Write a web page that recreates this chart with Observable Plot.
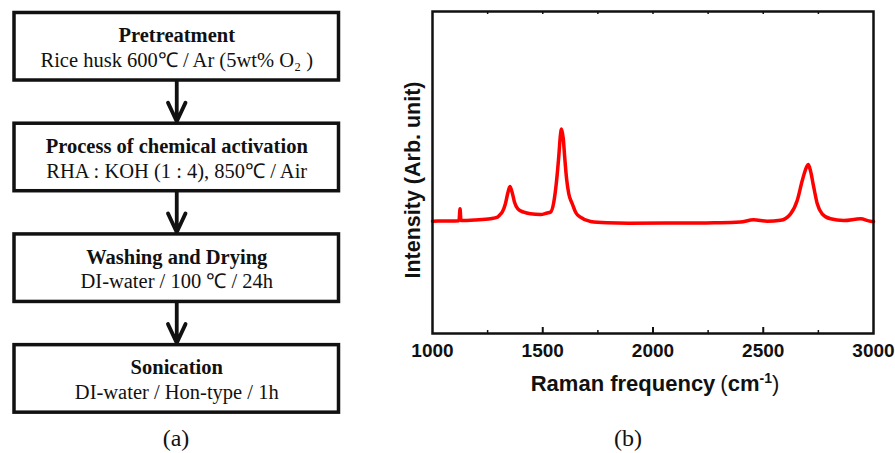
<!DOCTYPE html>
<html>
<head>
<meta charset="utf-8">
<script src="https://cdn.jsdelivr.net/npm/d3@7"></script>
<script src="https://cdn.jsdelivr.net/npm/@observablehq/plot@0.6"></script>
<style>
  html, body { margin: 0; padding: 0; background: #fff; }
  #fig { position: relative; width: 895px; height: 453px; overflow: hidden; background: #fff; }
  .abs { position: absolute; }
  .cap { font-family: "Liberation Serif", "Times New Roman", serif; font-size: 24px; color: #111; transform: translate(-50%, 0); line-height: 24px; }
  .axlab { font-family: "Liberation Sans", Arial, sans-serif; font-weight: bold; color: #111; white-space: nowrap; }
</style>
</head>
<body>
<div id="fig">
  <div id="left" class="abs" style="left:0;top:0;"></div>
  <div id="right" class="abs" style="left:380px;top:0;"></div>
  <div class="abs axlab" style="left:655px;top:373px;transform:translate(-50%,0);font-size:22px;line-height:22px;">Raman frequency<span style="font-weight:normal;margin-left:5px;">(</span>cm<sup style="font-size:14px;vertical-align:8px;line-height:0;">-1</sup><span style="font-weight:normal;">)</span></div>
  <div class="abs axlab" style="left:414px;top:180px;transform:translate(-50%,-50%) rotate(-90deg);font-size:21.5px;line-height:21.5px;">Intensity (Arb. unit)</div>
  <div class="abs cap" style="left:176px;top:426px;">(a)</div>
  <div class="abs cap" style="left:628px;top:426px;">(b)</div>
</div>
<script>
// ---- Panel (a): process steps ----
const stepTitles = ["Pretreatment", "Process of chemical activation", "Washing and Drying", "Sonication"];
const stepDetails = ["Rice husk 600℃ / Ar (5wt% O₂ )", "RHA : KOH (1 : 4), 850℃ / Air", "DI-water / 100 ℃ / 24h", "DI-water / Hon-type / 1h"];

// ---- Panel (b): Raman spectrum ----
const ramanShift = [1000,1059,1120,1125,1129,1195,1263,1295,1305,1316,1331,1341,1351,1361,1372,1387,1414,1444,1490,1520,1535,1550,1562,1573,1580,1585,1593,1600,1608,1618,1634,1649,1671,1717,1792,1889,2125,2306,2397,2456,2518,2578,2624,2654,2677,2696,2704,2714,2729,2745,2767,2805,2865,2941,2986,3000];
const intensity  = [1123,1125,1128,1247,1129,1135,1147,1163,1185,1213,1300,1400,1470,1413,1313,1247,1213,1197,1190,1205,1213,1313,1513,1780,1980,2045,1950,1750,1550,1397,1297,1213,1163,1120,1107,1103,1105,1107,1115,1137,1123,1132,1197,1330,1530,1663,1690,1630,1463,1297,1197,1147,1130,1147,1123,1120];
const xTickLabels = [1000, 1500, 2000, 2500, 3000];
const majorTicks = [1500, 2000, 2500];
const minorTicks = [1250, 1750, 2250, 2750];
const topTicks = [1250, 1500, 1750, 2000, 2250, 2500, 2750];

const steps = stepTitles.map((t, i) => ({i, title: t, detail: stepDetails[i]}));
const links = steps.slice(0, -1).map((s, k) => ({from: s.i, to: steps[k + 1].i}));

const serif = "Liberation Serif, Times New Roman, serif";
const left = Plot.plot({
  width: 360, height: 420,
  marginLeft: 14, marginRight: 21.5, marginTop: 46.25, marginBottom: 41.6,
  x: {domain: [0, 1], axis: null},
  y: {domain: [0, 3], reverse: true, axis: null},
  style: {background: "transparent", overflow: "visible"},
  marks: [
    Plot.arrow(links, {x1: 0.5, x2: 0.5, y1: "from", y2: "to", stroke: "#111", strokeWidth: 3.8,
      headLength: 8.2, headAngle: 50, insetStart: 34, insetEnd: 36}),
    Plot.rect(steps, {x1: 0, x2: 1, y1: d => d.i - 0.5, y2: d => d.i + 0.5, insetTop: 21.6, insetBottom: 21.6,
      fill: "white", stroke: "#111", strokeWidth: 3.5}),
    Plot.text(steps, {x: 0.5, y: "i", text: "title", dy: -11, fontSize: 20.5, fontWeight: "bold", fontFamily: serif, fill: "#111"}),
    Plot.text(steps, {x: 0.5, y: "i", text: "detail", dy: 13.5, fontSize: 20.5, fontFamily: serif, fill: "#111"})
  ]
});
document.getElementById("left").appendChild(left);

const spectrum = ramanShift.map((x, k) => ({x, y: intensity[k]}));
const right = Plot.plot({
  width: 515, height: 400,
  marginLeft: 52, marginRight: 22, marginTop: 11, marginBottom: 67,
  x: {domain: [1000, 3000], ticks: xTickLabels, tickSize: 0, tickPadding: 10, tickFormat: d => String(d), label: null},
  y: {domain: [0, 3220], axis: null},
  style: {background: "transparent", overflow: "visible", fontSize: "19px", fontWeight: "bold", fontFamily: "Liberation Sans, Arial, sans-serif", color: "#111"},
  marks: [
    Plot.line(spectrum, {x: "x", y: "y", stroke: "#ff0000", strokeWidth: 3.5, curve: "monotone-x"}),
    Plot.tickX(majorTicks, {x: d => d, insetTop: 316, stroke: "#111", strokeWidth: 2}),
    Plot.tickX(minorTicks, {x: d => d, insetTop: 319, stroke: "#111", strokeWidth: 1.5}),
    Plot.tickX(topTicks, {x: d => d, insetBottom: 319, stroke: "#111", strokeWidth: 1.5}),
    Plot.frame({stroke: "#111", strokeWidth: 2.5})
  ]
});
document.getElementById("right").appendChild(right);
</script>
</body>
</html>
